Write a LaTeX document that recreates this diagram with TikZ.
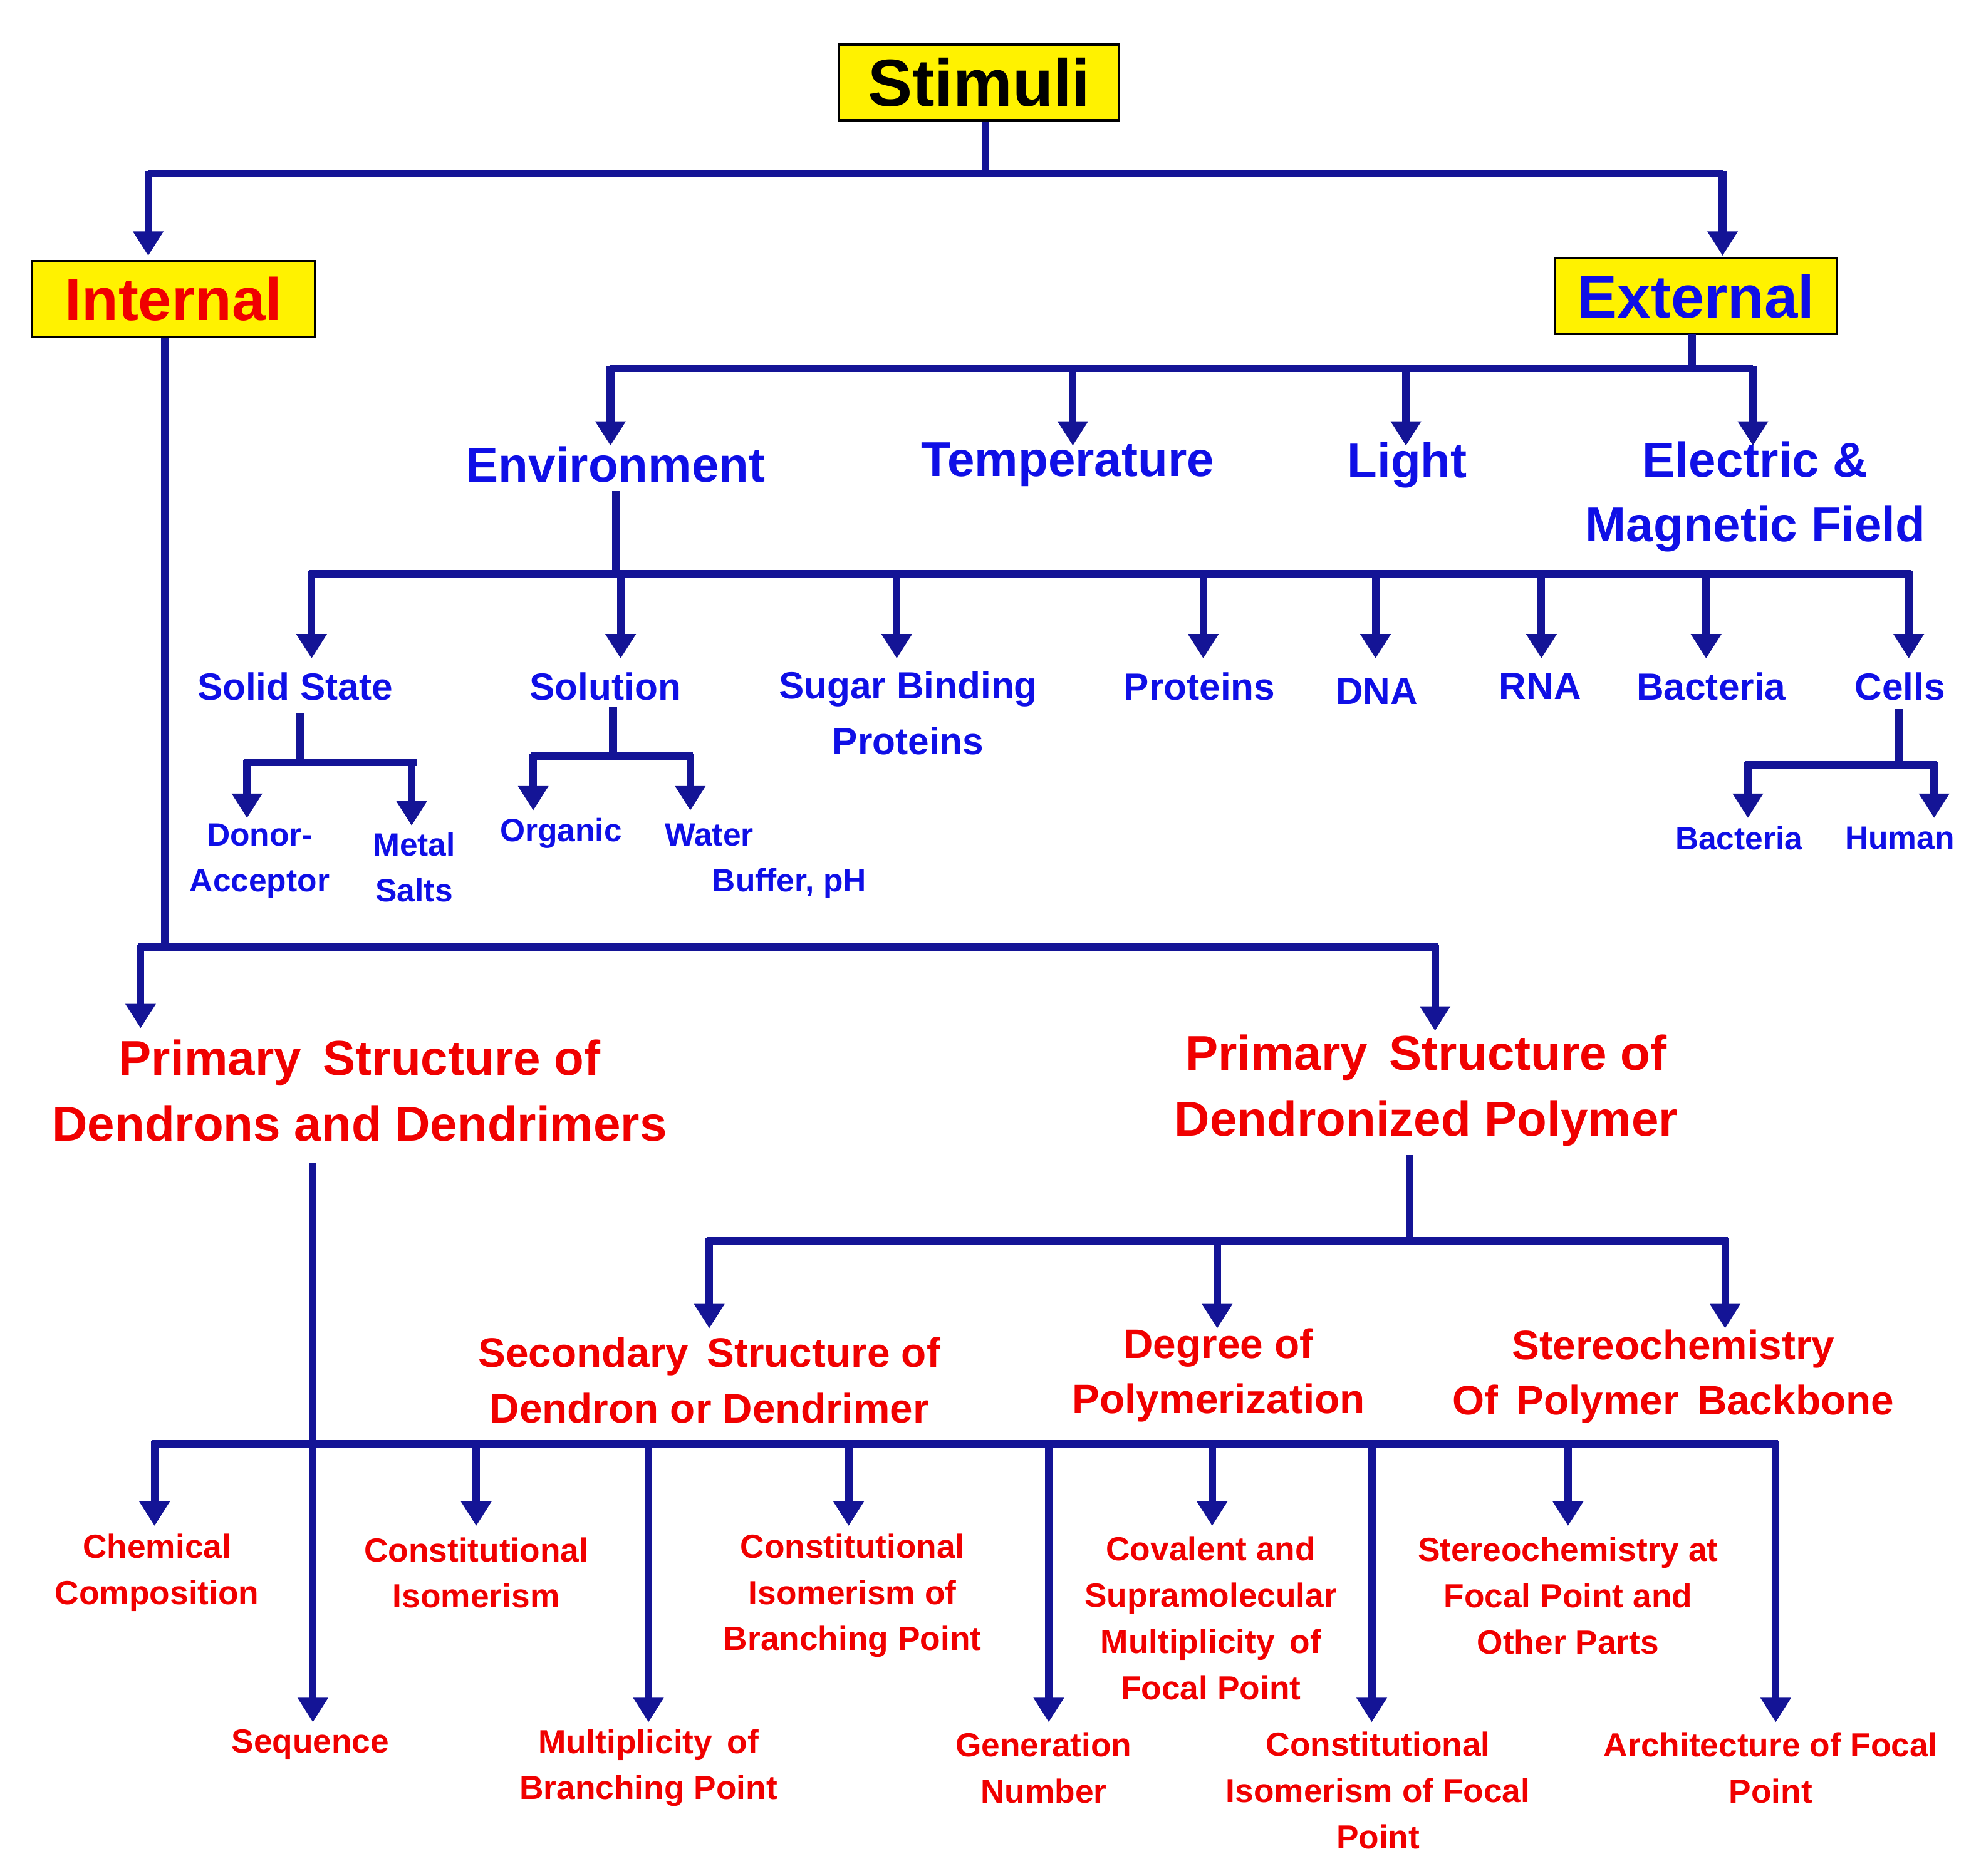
\documentclass[tikz,border=0pt]{standalone}
\usepackage{fontspec}
\setmainfont{Liberation Sans}
\usetikzlibrary{arrows.meta}
\definecolor{ln}{RGB}{20,20,150}
\definecolor{tb}{RGB}{15,15,230}
\definecolor{tr}{RGB}{240,0,0}
\begin{document}
\begin{tikzpicture}[x=0.02cm,y=-0.02cm,
 ln/.style={draw=ln,line width=3.4pt},
 arr/.style={ln,-{Triangle[width=13pt,length=11pt]}},
 box/.style={draw=black,line width=1pt,fill=yellow,minimum height=1.2cm,inner sep=0pt,font=\bfseries\fontsize{27}{30}\selectfont},
 b1/.style={text=tb,font=\bfseries\fontsize{22}{29}\selectfont,align=center,inner sep=0pt},
 b2/.style={text=tb,font=\bfseries\fontsize{17}{25}\selectfont,align=center,inner sep=0pt},
 b3/.style={text=tb,font=\bfseries\fontsize{14.5}{20.5}\selectfont,align=center,inner sep=0pt},
 r1/.style={text=tr,font=\bfseries\fontsize{22}{29.5}\selectfont,align=center,inner sep=0pt},
 r2/.style={text=tr,font=\bfseries\fontsize{18.5}{25}\selectfont,align=center,inner sep=0pt},
 r3/.style={text=tr,font=\bfseries\fontsize{15}{20.8}\selectfont,align=center,inner sep=0pt},
]
\useasboundingbox (0,0) rectangle (1568,1481);
% top boxes
\node[box,minimum width=4.42cm,font=\bfseries\fontsize{30}{32}\selectfont] (stim) at (773,65) {Stimuli};
\node[box,minimum width=4.46cm,text=tr] (int) at (137,236) {Internal};
\node[box,minimum width=4.44cm,text=tb] (ext) at (1339,234) {External};
\coordinate (s1) at (778,137);
\draw[ln] (stim.south -| s1) -- (s1);
\draw[ln] (117,137) -- (1360,137);
\draw[arr] (117,135) -- (117,202);
\draw[arr] (1360,135) -- (1360,202);
% external
\node[b1] (env) at (486,367) {Environment};
\node[b1] (temp) at (843,367) {Temperature};
\node[b1] (light) at (1111,367) {Light};
\node[b1] (emf) at (1386,392) {Electric \&\\Magnetic Field};
\draw[ln] (1336,264) -- (1336,291);
\draw[ln] (482,291) -- (1384,291);
\foreach \x in {482,847,1110,1384} \draw[arr] (\x,289) -- (\x,352);
% environment
\draw[ln] (486,388) -- (486,453);
\draw[ln] (244,453) -- (1509,453);
\foreach \x in {246,490,708,950,1086,1217,1347,1507} \draw[arr] (\x,451) -- (\x,520);
\node[b2] (solid) at (233,542) {Solid State};
\node[b2] (sol) at (478,542) {Solution};
\node[b2] (sugar) at (717,563) {Sugar Binding\\Proteins};
\node[b2] (prot) at (947,542) {Proteins};
\node[b2] (dna) at (1087,546) {DNA};
\node[b2] (rna) at (1216,542) {RNA};
\node[b2] (bact) at (1351,542) {Bacteria};
\node[b2] (cells) at (1500,542) {Cells};
% solid state
\draw[ln] (237,563) -- (237,602);
\draw[ln] (193,602) -- (329,602);
\draw[arr] (195,600) -- (195,646);
\draw[arr] (325,600) -- (325,652);
\node[b3] (donor) at (205,680) {Donor-\\Acceptor};
\node[b3] (metal) at (327,685) {Metal\\Salts};
% solution
\draw[ln] (484,558) -- (484,597);
\draw[ln] (419,597) -- (547,597);
\draw[arr] (421,595) -- (421,640);
\draw[arr] (545,595) -- (545,640);
\node[b3] (org) at (443,658) {Organic};
\node[b3,anchor=north] (water) at (560,650) {Water\\\hspace*{72pt}Buffer, pH};
% cells
\draw[ln] (1499,560) -- (1499,604);
\draw[ln] (1378,604) -- (1529,604);
\draw[arr] (1380,602) -- (1380,646);
\draw[arr] (1527,602) -- (1527,646);
\node[b3] (cb) at (1373,662) {Bacteria};
\node[b3] (hum) at (1500,662) {Human};
% internal
\draw[ln] (130,267) -- (130,748);
\draw[ln] (109,748) -- (1135,748);
\draw[arr] (111,746) -- (111,812);
\draw[arr] (1133,746) -- (1133,814);
\node[r1] (pd) at (284,861) {Primary\, Structure of\\Dendrons and Dendrimers};
\node[r1] (pp) at (1126,861) {Primary\, Structure of\\Dendronized Polymer};
% right
\draw[ln] (1113,912) -- (1113,980);
\draw[ln] (558,980) -- (1364,980);
\foreach \x in {560,961,1362} \draw[arr] (\x,978) -- (\x,1049);
\node[r2] (sec) at (560,1090) {Secondary\, Structure of\\Dendron or Dendrimer};
\node[r2] (deg) at (962,1086) {Degree of\\Polymerization};
\node[r2] (ster) at (1321,1087) {Stereochemistry\\Of\, Polymer\, Backbone};
% bottom bus
\draw[ln] (247,918) -- (247,1140);
\draw[ln] (120,1140) -- (1404,1140);
\foreach \x in {122,376,670,957,1238} \draw[arr] (\x,1138) -- (\x,1205);
\foreach \x in {247,512,828,1083,1402} \draw[arr] (\x,1138) -- (\x,1360);
\node[r3] (chem) at (124,1242) {Chemical\\Composition};
\node[r3] (ci) at (376,1242) {Constitutional\\Isomerism};
\node[r3] (cib) at (673,1260) {Constitutional\\Isomerism of\\Branching Point};
\node[r3] (cov) at (956,1278) {Covalent and\\Supramolecular\\Multiplicity\, of\\Focal Point};
\node[r3] (sfp) at (1238,1260) {Stereochemistry at\\Focal Point and\\Other Parts};
\node[r3] (seq) at (245,1378) {Sequence};
\node[r3] (mbp) at (512,1396) {Multiplicity\, of\\Branching Point};
\node[r3] (gen) at (824,1396) {Generation\\Number};
\node[r3] (cif) at (1088,1414) {Constitutional\\Isomerism of Focal\\Point};
\node[r3] (afp) at (1398,1396) {Architecture of Focal\\Point};
\end{tikzpicture}
\end{document}
